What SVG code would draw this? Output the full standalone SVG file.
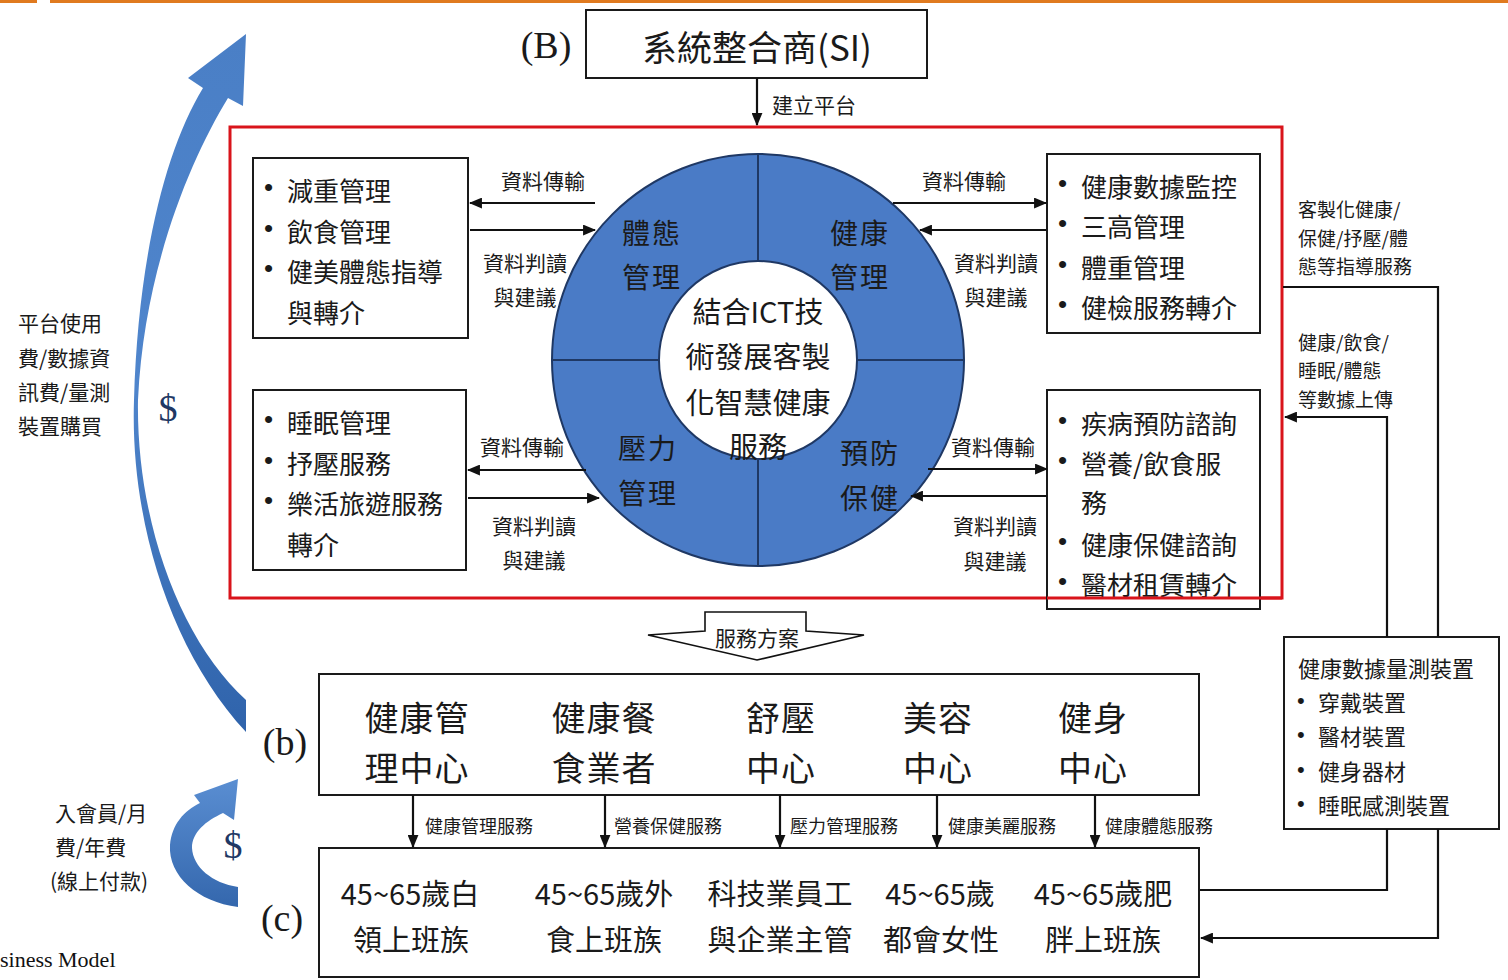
<svg xmlns="http://www.w3.org/2000/svg" width="1508" height="980" viewBox="0 0 1508 980">
<style>
.cjk{font-family:"Noto Sans CJK TC","Noto Sans CJK SC",sans-serif;fill:#1a1a1a;dominant-baseline:central}
.ser{font-family:"Liberation Serif",serif;fill:#1a1a1a;dominant-baseline:central}
.bul{font-family:"Liberation Sans",sans-serif;fill:#1a1a1a;dominant-baseline:central}
.box{fill:#fff;stroke:#1a1a1a;stroke-width:2}
.ln{fill:none;stroke:#111;stroke-width:2.2}
.b26{font-size:26px}
.s21{font-size:21px}
.s18{font-size:18px}
.s19{font-size:19px}
.s22{font-size:22px}
.mid{text-anchor:middle}
</style>
<defs>
<marker id="ah" viewBox="0 0 12 10" refX="11" refY="5" markerWidth="13" markerHeight="11" markerUnits="userSpaceOnUse" orient="auto"><path d="M0,0 L12,5 L0,10 z" fill="#111"/></marker>
<linearGradient id="bg" x1="0" y1="1" x2="0" y2="0"><stop offset="0" stop-color="#2f63ab"/><stop offset="0.5" stop-color="#4f85cc"/><stop offset="1" stop-color="#4a7fc6"/></linearGradient>
<linearGradient id="sg" x1="0" y1="1" x2="0" y2="0"><stop offset="0" stop-color="#3467ad"/><stop offset="1" stop-color="#5a8ed2"/></linearGradient>
</defs>
<rect x="0" y="0" width="1508" height="980" fill="#fff"/>
<rect x="0" y="0" width="37" height="3" fill="#e07a1f"/>
<rect x="50" y="0" width="1458" height="3" fill="#e07a1f"/>

<g id="money-arrows">
<path d="M246,732 C170,650 130,520 134,400 C138,260 165,150 203,88 L188,78 L246,34 L243,106 L228,98 C190,160 144,270 138,400 C136,520 180,640 246,700 Z" fill="url(#bg)"/>
<path d="M238,907 C198,902 168,876 170,845 C172,824 184,811 200,803 L194,795 L238,779 L234,820 L223,813 C206,821 192,832 192,848 C193,867 212,883 238,887 Z" fill="url(#sg)"/>
<text class="ser" x="168" y="408" font-size="38" text-anchor="middle" style="fill:#1f3864">$</text>
<text class="ser" x="233" y="845" font-size="38" text-anchor="middle" style="fill:#1f3864">$</text>
<text class="cjk s21" x="18" y="322">平台使用</text>
<text class="cjk s21" x="18" y="357">費/數據資</text>
<text class="cjk s21" x="18" y="391">訊費/量測</text>
<text class="cjk s21" x="18" y="425">裝置購買</text>
<text class="cjk s21" x="55" y="812">入會員/月</text>
<text class="cjk s21" x="55" y="846">費/年費</text>
<text class="cjk s21" x="50" y="880">(線上付款)</text>
</g>

<g id="si">
<text class="ser" x="546" y="45" font-size="38" text-anchor="middle">(B)</text>
<rect class="box" x="586" y="10" width="341" height="68"/>
<text class="cjk mid" x="757" y="45" font-size="35">系統整合商(SI)</text>
</g>

<g id="platform">
<rect x="230" y="127" width="1052" height="471" fill="none" stroke="#d9141b" stroke-width="3"/>
</g>

<g id="circle">
<circle cx="758" cy="360" r="206" fill="#4a7bc6" stroke="#1f3864" stroke-width="2"/>
<line x1="758" y1="154" x2="758" y2="566" stroke="#1f3864" stroke-width="2"/>
<line x1="552" y1="360" x2="964" y2="360" stroke="#1f3864" stroke-width="2"/>
<circle cx="758" cy="360" r="99" fill="#fff" stroke="#1f3864" stroke-width="2"/>
<text class="cjk mid" x="652" y="232" font-size="28" letter-spacing="2">體態</text>
<text class="cjk mid" x="652" y="276" font-size="28" letter-spacing="2">管理</text>
<text class="cjk mid" x="860" y="232" font-size="28" letter-spacing="2">健康</text>
<text class="cjk mid" x="860" y="276" font-size="28" letter-spacing="2">管理</text>
<text class="cjk mid" x="648" y="447" font-size="28" letter-spacing="2">壓力</text>
<text class="cjk mid" x="648" y="492" font-size="28" letter-spacing="2">管理</text>
<text class="cjk mid" x="870" y="452" font-size="28" letter-spacing="2">預防</text>
<text class="cjk mid" x="870" y="497" font-size="28" letter-spacing="2">保健</text>
<text class="cjk mid" x="758" y="310" font-size="29">結合ICT技</text>
<text class="cjk mid" x="758" y="355" font-size="29">術發展客製</text>
<text class="cjk mid" x="758" y="401" font-size="29">化智慧健康</text>
<text class="cjk mid" x="758" y="445" font-size="29">服務</text>
</g>

<g id="box-body">
<rect class="box" x="253" y="158" width="215" height="180"/>
<text class="bul b26" x="264" y="187">•</text><text class="cjk b26" x="287" y="189">減重管理</text>
<text class="bul b26" x="264" y="228">•</text><text class="cjk b26" x="287" y="230">飲食管理</text>
<text class="bul b26" x="264" y="268">•</text><text class="cjk b26" x="287" y="270">健美體態指導</text>
<text class="cjk b26" x="287" y="311">與轉介</text>
</g>

<g id="box-stress">
<rect class="box" x="253" y="390" width="213" height="180"/>
<text class="bul b26" x="264" y="419">•</text><text class="cjk b26" x="287" y="421">睡眠管理</text>
<text class="bul b26" x="264" y="460">•</text><text class="cjk b26" x="287" y="462">抒壓服務</text>
<text class="bul b26" x="264" y="500">•</text><text class="cjk b26" x="287" y="502">樂活旅遊服務</text>
<text class="cjk b26" x="287" y="543">轉介</text>
</g>

<g id="box-health">
<rect class="box" x="1047" y="154" width="213" height="179"/>
<text class="bul b26" x="1058" y="183">•</text><text class="cjk b26" x="1081" y="185">健康數據監控</text>
<text class="bul b26" x="1058" y="223">•</text><text class="cjk b26" x="1081" y="225">三高管理</text>
<text class="bul b26" x="1058" y="264">•</text><text class="cjk b26" x="1081" y="266">體重管理</text>
<text class="bul b26" x="1058" y="304">•</text><text class="cjk b26" x="1081" y="306">健檢服務轉介</text>
</g>

<g id="box-prevent">
<rect class="box" x="1047" y="390" width="213" height="219"/>
<text class="bul b26" x="1058" y="420">•</text><text class="cjk b26" x="1081" y="422">疾病預防諮詢</text>
<text class="bul b26" x="1058" y="460">•</text><text class="cjk b26" x="1081" y="462">營養/飲食服</text>
<text class="cjk b26" x="1081" y="501">務</text>
<text class="bul b26" x="1058" y="541">•</text><text class="cjk b26" x="1081" y="543">健康保健諮詢</text>
<text class="bul b26" x="1058" y="581">•</text><text class="cjk b26" x="1081" y="583">醫材租賃轉介</text>
</g>
<line x1="1047" y1="598" x2="1282" y2="598" stroke="#d9141b" stroke-width="3"/>

<g id="device">
<rect class="box" x="1284" y="637" width="215" height="192"/>
<text class="cjk s22" x="1298" y="667">健康數據量測裝置</text>
<text class="bul s22" x="1297" y="700">•</text><text class="cjk s22" x="1318" y="701">穿戴裝置</text>
<text class="bul s22" x="1297" y="734">•</text><text class="cjk s22" x="1318" y="735">醫材裝置</text>
<text class="bul s22" x="1297" y="769">•</text><text class="cjk s22" x="1318" y="770">健身器材</text>
<text class="bul s22" x="1297" y="803">•</text><text class="cjk s22" x="1318" y="804">睡眠感測裝置</text>
</g>

<g id="plan">
<path d="M705,612 L806,612 L806,631 L864,635 L757,660 L648,635 L705,631 Z" fill="#fff" stroke="#111" stroke-width="1.6"/>
<text class="cjk mid" x="757" y="637" font-size="21">服務方案</text>
</g>

<g id="box-b">
<text class="ser" x="285" y="742" font-size="38" text-anchor="middle">(b)</text>
<rect class="box" x="319" y="674" width="880" height="121"/>
<text class="cjk mid" x="417" y="716" font-size="34" letter-spacing="1">健康管</text>
<text class="cjk mid" x="417" y="766" font-size="34" letter-spacing="1">理中心</text>
<text class="cjk mid" x="604" y="716" font-size="34" letter-spacing="1">健康餐</text>
<text class="cjk mid" x="604" y="766" font-size="34" letter-spacing="1">食業者</text>
<text class="cjk mid" x="781" y="716" font-size="34" letter-spacing="1">舒壓</text>
<text class="cjk mid" x="781" y="766" font-size="34" letter-spacing="1">中心</text>
<text class="cjk mid" x="938" y="716" font-size="34" letter-spacing="1">美容</text>
<text class="cjk mid" x="938" y="766" font-size="34" letter-spacing="1">中心</text>
<text class="cjk mid" x="1093" y="716" font-size="34" letter-spacing="1">健身</text>
<text class="cjk mid" x="1093" y="766" font-size="34" letter-spacing="1">中心</text>
</g>

<g id="box-c">
<text class="ser" x="282" y="918" font-size="38" text-anchor="middle">(c)</text>
<rect class="box" x="319" y="848" width="880" height="129"/>
<text class="cjk mid" x="410" y="892" font-size="29">45~65歲白</text>
<text class="cjk mid" x="411" y="938" font-size="29">領上班族</text>
<text class="cjk mid" x="604" y="892" font-size="29">45~65歲外</text>
<text class="cjk mid" x="604" y="938" font-size="29">食上班族</text>
<text class="cjk mid" x="780" y="892" font-size="29">科技業員工</text>
<text class="cjk mid" x="780" y="938" font-size="29">與企業主管</text>
<text class="cjk mid" x="940" y="892" font-size="29">45~65歲</text>
<text class="cjk mid" x="941" y="938" font-size="29">都會女性</text>
<text class="cjk mid" x="1103" y="892" font-size="29">45~65歲肥</text>
<text class="cjk mid" x="1103" y="938" font-size="29">胖上班族</text>
</g>

<g id="connectors">
<line class="ln" x1="757" y1="78" x2="757" y2="125" marker-end="url(#ah)"/>
<line class="ln" x1="595" y1="203" x2="470" y2="203" marker-end="url(#ah)"/>
<line class="ln" x1="470" y1="230" x2="595" y2="230" marker-end="url(#ah)"/>
<line class="ln" x1="893" y1="203" x2="1046" y2="203" marker-end="url(#ah)"/>
<line class="ln" x1="1046" y1="230" x2="920" y2="230" marker-end="url(#ah)"/>
<line class="ln" x1="586" y1="470" x2="468" y2="470" marker-end="url(#ah)"/>
<line class="ln" x1="468" y1="498" x2="599" y2="498" marker-end="url(#ah)"/>
<line class="ln" x1="928" y1="469" x2="1047" y2="469" marker-end="url(#ah)"/>
<line class="ln" x1="1047" y1="496" x2="911" y2="496" marker-end="url(#ah)"/>
<line class="ln" x1="413" y1="795" x2="413" y2="847" marker-end="url(#ah)"/>
<line class="ln" x1="605" y1="795" x2="605" y2="847" marker-end="url(#ah)"/>
<line class="ln" x1="780" y1="795" x2="780" y2="847" marker-end="url(#ah)"/>
<line class="ln" x1="937" y1="795" x2="937" y2="847" marker-end="url(#ah)"/>
<line class="ln" x1="1095" y1="795" x2="1095" y2="847" marker-end="url(#ah)"/>
<polyline class="ln" points="1283,287 1438,287 1438,637"/>
<polyline class="ln" points="1387,637 1387,417 1285,417" marker-end="url(#ah)"/>
<polyline class="ln" points="1387,829 1387,890 1200,890"/>
<polyline class="ln" points="1438,829 1438,938 1201,938" marker-end="url(#ah)"/>
<text class="cjk s21" x="772" y="104">建立平台</text>
<text class="cjk s21 mid" x="543" y="180">資料傳輸</text>
<text class="cjk s21 mid" x="525" y="262">資料判讀</text>
<text class="cjk s21 mid" x="525" y="296">與建議</text>
<text class="cjk s21 mid" x="964" y="180">資料傳輸</text>
<text class="cjk s21 mid" x="996" y="262">資料判讀</text>
<text class="cjk s21 mid" x="996" y="296">與建議</text>
<text class="cjk s21 mid" x="522" y="446">資料傳輸</text>
<text class="cjk s21 mid" x="534" y="525">資料判讀</text>
<text class="cjk s21 mid" x="534" y="559">與建議</text>
<text class="cjk s21 mid" x="993" y="446">資料傳輸</text>
<text class="cjk s21 mid" x="995" y="525">資料判讀</text>
<text class="cjk s21 mid" x="995" y="560">與建議</text>
<text class="cjk s18" x="425" y="825">健康管理服務</text>
<text class="cjk s18" x="614" y="825">營養保健服務</text>
<text class="cjk s18" x="790" y="825">壓力管理服務</text>
<text class="cjk s18" x="948" y="825">健康美麗服務</text>
<text class="cjk s18" x="1105" y="825">健康體態服務</text>
<text class="cjk s19" x="1298" y="208">客製化健康/</text>
<text class="cjk s19" x="1298" y="237">保健/抒壓/體</text>
<text class="cjk s19" x="1298" y="265">態等指導服務</text>
<text class="cjk s19" x="1298" y="341">健康/飲食/</text>
<text class="cjk s19" x="1298" y="369">睡眠/體態</text>
<text class="cjk s19" x="1298" y="398">等數據上傳</text>
</g>

<text x="0" y="967" font-family="Liberation Serif, serif" font-size="22" fill="#111">siness Model</text>
</svg>
